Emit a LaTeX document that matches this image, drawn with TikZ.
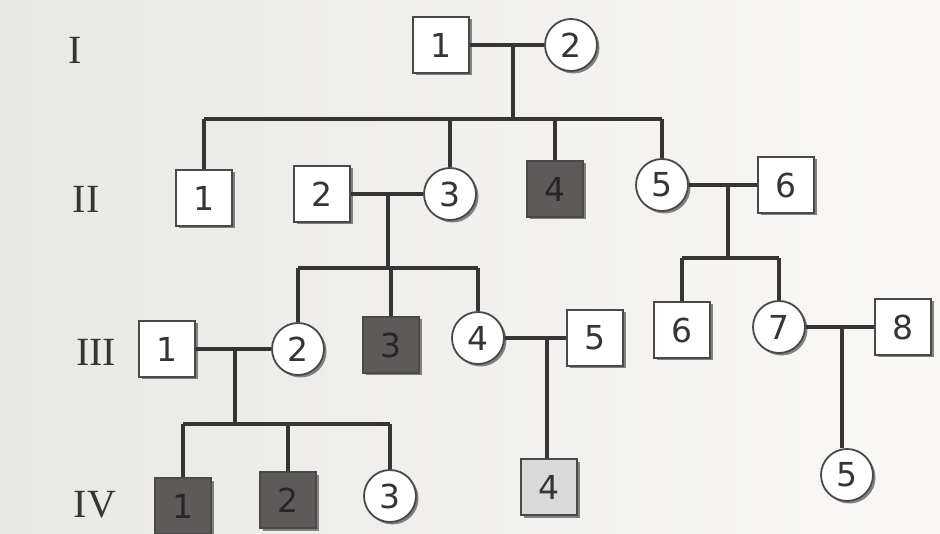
\documentclass[tikz,border=0pt]{standalone}
\usepackage{fontspec}
\setmainfont{DejaVu Sans}
\newfontfamily\genfont{Liberation Serif}
\usetikzlibrary{shadows}
\definecolor{paperL}{HTML}{E8E8E5}
\definecolor{paperR}{HTML}{F9F8F5}
\definecolor{ink}{HTML}{363434}
\definecolor{edge}{HTML}{4A4848}
\definecolor{affected}{HTML}{5E5A5A}
\definecolor{carrier}{HTML}{DADADA}
\tikzset{
  x=1pt, y=-1pt,
  person/.style={draw=edge, line width=1.8pt, fill=white, text=ink,
    font=\fontsize{33}{33}\selectfont, inner sep=0pt,
    drop shadow={shadow xshift=2.5pt, shadow yshift=-2.5pt, fill=black!60, opacity=0.8}},
  male/.style={person, rectangle, minimum width=56pt, minimum height=56pt},
  female/.style={person, circle, minimum size=52pt},
  sick/.style={fill=affected, text=black!85},
  pale/.style={fill=carrier},
  gen/.style={text=ink, font=\genfont\fontsize{40}{40}\selectfont},
  link/.style={draw=ink, line width=3.6pt},
}
\begin{document}
\begin{tikzpicture}
% paper
\shade[left color=paperL, right color=paperR] (0,0) rectangle (940,534);
\useasboundingbox (0,0) rectangle (940,534);

% generation labels
\node[gen] (gI)   at (75,50)  {I};
\node[gen] (gII)  at (86,199) {II};
\node[gen] (gIII) at (96,352) {III};
\node[gen] (gIV)  at (95,505) {IV};

% generation I
\node[male]   (I1) at (441,45) {1};
\node[female] (I2) at (571,45) {2};

% generation II
\node[male]       (II1) at (204,198) {1};
\node[male]       (II2) at (322,194) {2};
\node[female]     (II3) at (450,194) {3};
\node[male, sick] (II4) at (555,189) {4};
\node[female]     (II5) at (662,185) {5};
\node[male]       (II6) at (786,185) {6};

% generation III
\node[male]       (III1) at (167,349) {1};
\node[female]     (III2) at (298,349) {2};
\node[male, sick] (III3) at (391,345) {3};
\node[female]     (III4) at (478,338) {4};
\node[male]       (III5) at (595,338) {5};
\node[male]       (III6) at (682,330) {6};
\node[female]     (III7) at (779,327) {7};
\node[male]       (III8) at (903,327) {8};

% generation IV
\node[male, sick] (IV1) at (183,506) {1};
\node[male, sick] (IV2) at (288,500) {2};
\node[female]     (IV3) at (390,496) {3};
\node[male, pale] (IV4) at (549,487) {4};
\node[female]     (IV5) at (847,475) {5};

% marriage points and sibship levels
\coordinate (mI)   at (513,45);
\coordinate (mII)  at (388,194);
\coordinate (mIIb) at (728,185);
\coordinate (mIII) at (235,349);
\coordinate (mIIIb) at (547,338);
\coordinate (mIIIc) at (842,327);
\coordinate (sI)   at (0,119);
\coordinate (sII)  at (0,268);
\coordinate (sIIb) at (0,258);
\coordinate (sIII) at (0,424);

% couples
\draw[link] (I1.east) -- (I2.west);
\draw[link] (II2.east) -- (II3.west);
\draw[link] (II5.east) -- (II6.west);
\draw[link] (III1.east) -- (III2.west);
\draw[link] (III4.east) -- (III5.west);
\draw[link] (III7.east) -- (III8.west);

% children of I-1 x I-2
\draw[link] (mI) -- (mI |- sI);
\draw[link] (sI -| II1) -- (sI -| II5);
\foreach \c in {II1,II3,II4,II5} \draw[link] (sI -| \c) -- (\c.north);

% children of II-2 x II-3
\draw[link] (mII) -- (mII |- sII);
\draw[link] (sII -| III2) -- (sII -| III4);
\foreach \c in {III2,III3,III4} \draw[link] (sII -| \c) -- (\c.north);

% children of II-5 x II-6
\draw[link] (mIIb) -- (mIIb |- sIIb);
\draw[link] (sIIb -| III6) -- (sIIb -| III7);
\foreach \c in {III6,III7} \draw[link] (sIIb -| \c) -- (\c.north);

% children of III-1 x III-2
\draw[link] (mIII) -- (mIII |- sIII);
\draw[link] (sIII -| IV1) -- (sIII -| IV3);
\foreach \c in {IV1,IV2,IV3} \draw[link] (sIII -| \c) -- (\c.north);

% only children
\draw[link] (mIIIb) -- (mIIIb |- IV4.north);
\draw[link] (mIIIc) -- (mIIIc |- IV5.north);
\end{tikzpicture}
\end{document}
